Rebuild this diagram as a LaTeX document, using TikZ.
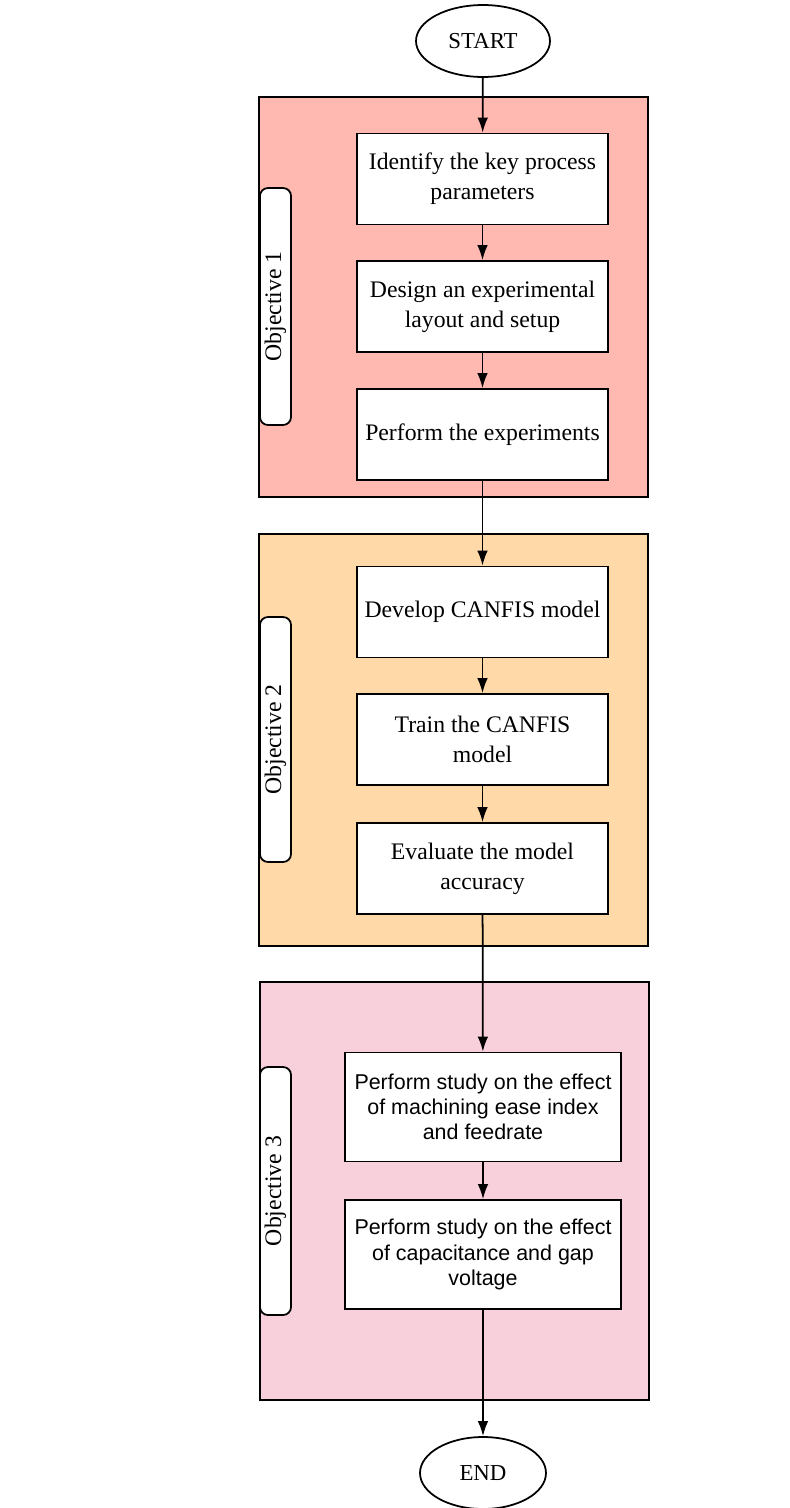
\documentclass[tikz,border=0pt]{standalone}
\usepackage{fontspec}
\setmainfont{Liberation Serif}
\newfontfamily\helvfont{Liberation Sans}
\usetikzlibrary{shapes.geometric,arrows.meta}
\definecolor{objred}{HTML}{FFB9B1}
\definecolor{objorange}{HTML}{FFDAA8}
\definecolor{objpink}{HTML}{F8D0DB}
\tikzset{
  panel/.style={draw,line width=1pt},
  stepbox/.style={draw,fill=white,line width=1pt,minimum width=5.02cm,minimum height=1.82cm,align=center,inner sep=0pt,font=\fontsize{13.5}{17}\selectfont},
  sansbox/.style={stepbox,minimum width=5.52cm,minimum height=2.18cm,font=\helvfont\fontsize{12.2}{14.4}\selectfont},
  objtag/.style={draw,fill=white,rounded corners=4.5pt,line width=1pt,rotate=90,minimum height=0.62cm,inner sep=0pt,font=\fontsize{13.5}{16}\selectfont},
  term/.style={draw,ellipse,line width=1pt,inner sep=0pt,font=\fontsize{13}{16}\selectfont},
  flow/.style={line width=1pt,-{Latex[length=8.5pt,width=6pt]}}
}
\begin{document}
\begin{tikzpicture}[x=0.02cm,y=-0.02cm]
  \useasboundingbox (0,0) rectangle (790,1508);
  % objective panels
  \draw[panel,fill=objred] (259,97) rectangle (648,497);
  \draw[panel,fill=objorange] (259,534) rectangle (648,946);
  \draw[panel,fill=objpink] (260,982) rectangle (649,1400);
  \node[objtag,minimum width=4.74cm] (obj1) at (275.5,306.5) {Objective 1};
  \node[objtag,minimum width=4.9cm] (obj2) at (275.5,739.5) {Objective 2};
  \node[objtag,minimum width=4.96cm] (obj3) at (275.5,1191) {Objective 3};
  % steps
  \node[term,minimum width=2.68cm,minimum height=1.44cm] (start) at (483,41) {START};
  \node[stepbox] (ident) at (482.5,179) {Identify the key process\\parameters};
  \node[stepbox] (design) at (482.5,306.5) {Design an experimental\\layout and setup};
  \node[stepbox] (perform) at (482.5,434.5) {Perform the experiments};
  \node[stepbox] (develop) at (482.5,612) {Develop CANFIS model};
  \node[stepbox] (train) at (482.5,739.5) {Train the CANFIS\\model};
  \node[stepbox] (evaluate) at (482.5,868.5) {Evaluate the model\\accuracy};
  \node[sansbox] (studyfeed) at (483,1107) {Perform study on the effect\\of machining ease index\\and feedrate};
  \node[sansbox] (studygap) at (483,1254.5) {Perform study on the effect\\of capacitance and gap\\voltage};
  \node[term,minimum width=2.52cm,minimum height=1.44cm] (end) at (483,1473) {END};
  % connectors
  \draw[flow] (start) -- (ident);
  \draw[flow] (ident) -- (design);
  \draw[flow] (design) -- (perform);
  \draw[flow] (perform) -- (develop);
  \draw[flow] (develop) -- (train);
  \draw[flow] (train) -- (evaluate);
  \draw[flow] (evaluate) -- (studyfeed);
  \draw[flow] (studyfeed) -- (studygap);
  \draw[flow] (studygap) -- (end);
\end{tikzpicture}
\end{document}
